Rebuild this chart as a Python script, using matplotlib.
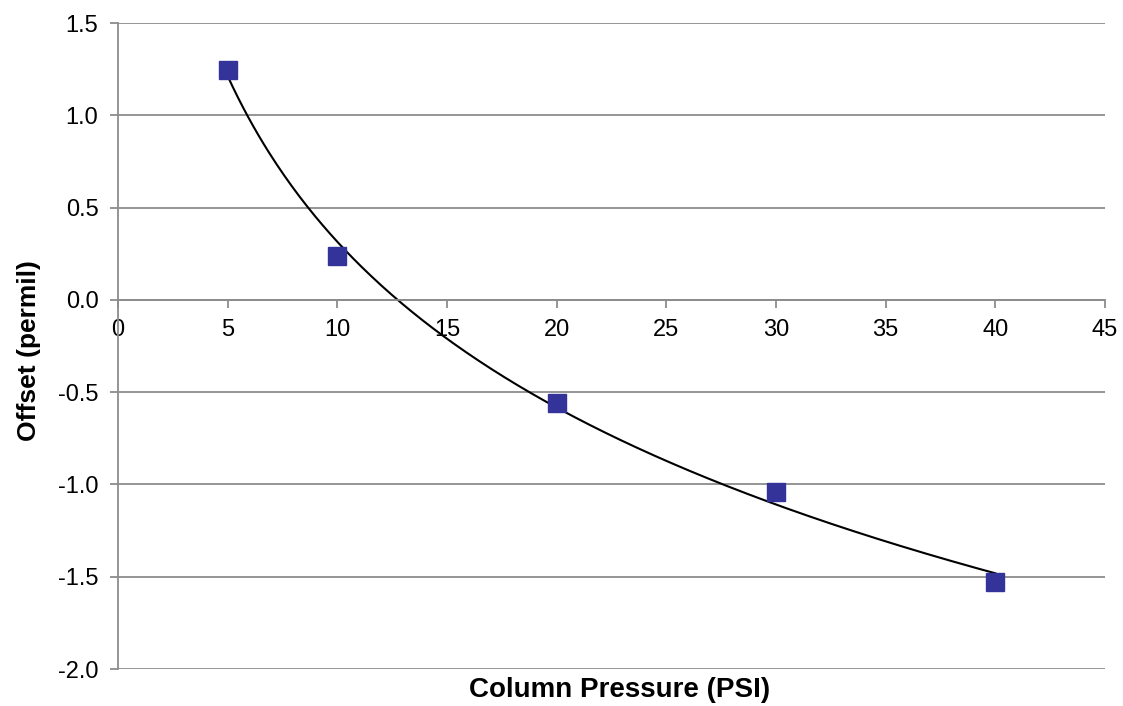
import numpy as np
import matplotlib.pyplot as plt

# Measured offsets vs column pressure
pressure = np.array([5, 10, 20, 30, 40])
offset = np.array([1.247, 0.238, -0.558, -1.041, -1.531])

x_ticks = [0, 5, 10, 15, 20, 25, 30, 35, 40, 45]
y_ticks = [-2.0, -1.5, -1.0, -0.5, 0.0, 0.5, 1.0, 1.5]

# Logarithmic trendline (Excel style)
a, b = np.polyfit(np.log(pressure), offset, 1)
xs = np.linspace(pressure.min(), pressure.max(), 300)
ys = a * np.log(xs) + b

plt.rcParams['font.family'] = ['Liberation Sans', 'DejaVu Sans']

fig = plt.figure(figsize=(11.23, 7.06), dpi=100)
ax = fig.add_axes([0.105, 0.0524, 0.879, 0.9150])

grid_col = '#8c8c8c'
for yv in y_ticks:
    ax.axhline(yv, color=grid_col, lw=1.3, zorder=0)

ax.plot(xs, ys, color='black', lw=1.5, zorder=2)
ax.plot(pressure, offset, 's', color='#333399', markersize=13.5,
        markeredgecolor='#333399', zorder=3)

ax.set_xlim(0, 45)
ax.set_ylim(-2.0, 1.5)
ax.set_xticks(x_ticks)
ax.set_yticks(y_ticks)
ax.set_yticklabels([f'{v:.1f}' for v in y_ticks])

ax.spines['top'].set_visible(False)
ax.spines['right'].set_visible(False)
ax.spines['left'].set_color(grid_col)
ax.spines['left'].set_linewidth(1.3)
ax.spines['bottom'].set_position(('data', 0))
ax.spines['bottom'].set_color(grid_col)
ax.spines['bottom'].set_linewidth(1.3)

ax.tick_params(axis='both', direction='out', length=6, width=1.3,
               color=grid_col, labelsize=17)
ax.tick_params(axis='x', pad=8)
ax.tick_params(axis='y', pad=8)

fig.text(0.552, 0.022, 'Column Pressure (PSI)', ha='center', va='center',
         fontsize=20, fontweight='bold')
fig.text(0.026, 0.504, 'Offset (permil)', ha='center', va='center',
         rotation=90, fontsize=19, fontweight='bold')

fig.savefig('out.png', dpi=100)
